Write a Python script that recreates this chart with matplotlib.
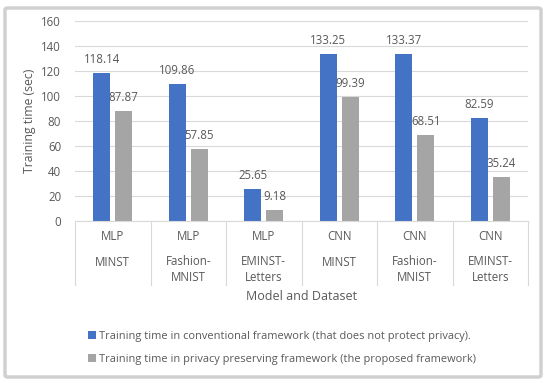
import matplotlib.pyplot as plt
import matplotlib.transforms as mtransforms
from matplotlib.patches import FancyBboxPatch
import numpy as np

models = ["MLP", "MLP", "MLP", "CNN", "CNN", "CNN"]
datasets = ["MINST", "Fashion-\nMNIST", "EMINST-\nLetters", "MINST", "Fashion-\nMNIST", "EMINST-\nLetters"]
conventional = [118.14, 109.86, 25.65, 133.25, 133.37, 82.59]
preserving = [87.87, 57.85, 9.18, 99.39, 68.51, 35.24]
legend_labels = ["Training time in conventional framework (that does not protect privacy).",
                 "Training time in privacy preserving framework (the proposed framework)"]

plt.rcParams['font.family'] = ['Open Sans', 'DejaVu Sans']
txt = "#595959"
grid = "#d9d9d9"
fs = 8.3

fig = plt.figure(figsize=(5.5, 3.83), dpi=100)
ax = fig.add_axes([75 / 550, 1 - 221 / 383, 453 / 550, 200 / 383])

# rounded border around the whole chart
fig.patches.append(FancyBboxPatch((5 / 550, 6 / 383), 536 / 550, 369 / 383,
                                  boxstyle="round,pad=0,rounding_size=0.005",
                                  transform=fig.transFigure, fill=False,
                                  edgecolor="#d0d0d0", lw=2.5))

x = np.arange(len(models))
w = 0.225
off = 0.146
b1 = ax.bar(x - off, conventional, w, color="#4472C4", label=legend_labels[0], zorder=2)
b2 = ax.bar(x + off, preserving, w, color="#A5A5A5", label=legend_labels[1], zorder=2)
ax.bar_label(b1, labels=[f"{v:.2f}" for v in conventional], padding=5, fontsize=fs, color=txt)
ax.bar_label(b2, labels=[f"{v:.2f}" for v in preserving], padding=5, fontsize=fs, color=txt)

ax.set_xlim(-0.5, len(models) - 0.5)
ax.set_ylim(0, 160)
ax.set_yticks(range(0, 161, 20))
ax.yaxis.grid(True, color=grid, lw=0.8, zorder=0)
ax.tick_params(axis='y', length=0, labelsize=fs, labelcolor=txt, pad=10)
ax.set_xticks([])
for s in ["top", "right", "left"]:
    ax.spines[s].set_visible(False)
ax.spines["bottom"].set_color(grid)

# two-level category axis
trans = mtransforms.blended_transform_factory(ax.transData, ax.transAxes)
for i in range(len(models) + 1):
    ax.plot([i - 0.5, i - 0.5], [0, -0.32], transform=trans, color=grid, lw=0.8, clip_on=False)
for i, (m, d) in enumerate(zip(models, datasets)):
    ax.text(i, -0.08, m, transform=trans, ha="center", va="center", fontsize=fs, color=txt)
    y = -0.2425 if "\n" in d else -0.205
    ax.text(i, y, d, transform=trans, ha="center", va="center", fontsize=fs, color=txt,
            linespacing=1.25)

ax.text(0.5, -0.38, "Model and Dataset", transform=ax.transAxes, ha="center", va="center",
        fontsize=9, color=txt)
ax.set_ylabel("Training time (sec)", fontsize=8.8, color=txt, labelpad=4)

fig.legend(handles=[b1, b2], loc="upper left", bbox_to_anchor=(78 / 550, 1 - 321 / 383),
           frameon=False, fontsize=7.9, labelcolor=txt, handlelength=0.7, handleheight=0.7,
           handletextpad=0.35, labelspacing=1.1)

plt.savefig("out.png", dpi=100)
